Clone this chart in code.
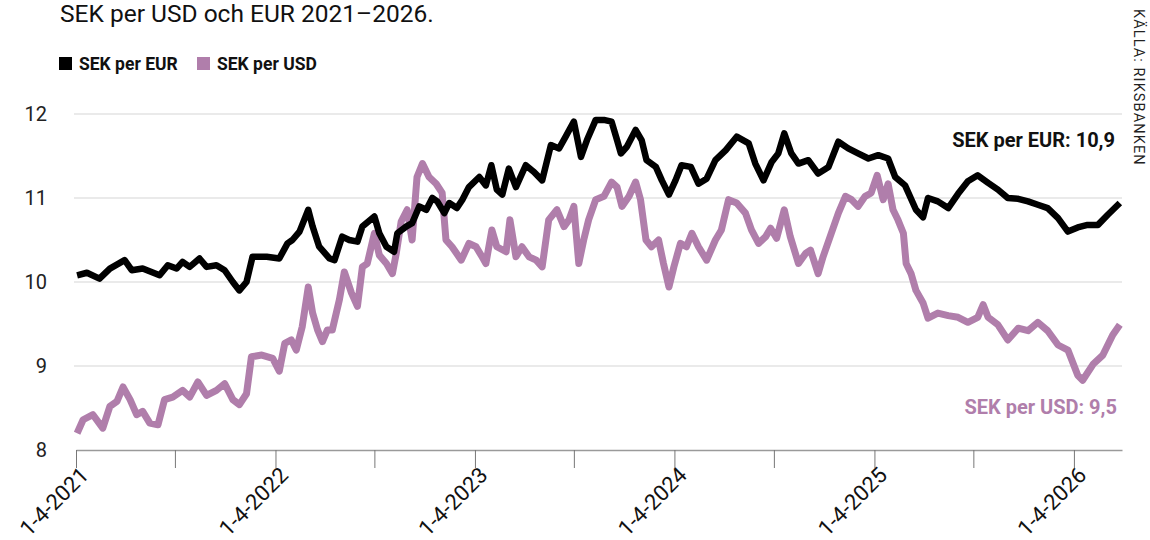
<!DOCTYPE html>
<html>
<head>
<meta charset="utf-8">
<script src="https://cdn.jsdelivr.net/npm/d3@7"></script>
<style>
  body { margin: 0; background: #fff; }
  svg { display: block; font-family: Roboto, 'Noto Sans', sans-serif; }
</style>
</head>
<body>
<div id="chart"></div>
<script>
// Values
const eurDates = [
  '2021-01-06', '2021-01-24', '2021-02-16', '2021-03-07', '2021-04-03', '2021-04-16',
  '2021-05-06', '2021-06-06', '2021-06-21', '2021-07-07', '2021-07-18', '2021-07-31',
  '2021-08-18', '2021-08-31', '2021-09-18', '2021-10-03', '2021-10-18', '2021-10-30',
  '2021-11-12', '2021-11-23', '2021-12-19', '2022-01-11', '2022-01-26', '2022-02-04',
  '2022-02-17', '2022-03-05', '2022-03-13', '2022-03-25', '2022-04-13', '2022-04-22',
  '2022-05-06', '2022-05-19', '2022-06-03', '2022-06-12', '2022-07-04', '2022-07-13',
  '2022-07-26', '2022-08-09', '2022-08-15', '2022-08-31', '2022-09-11', '2022-09-24',
  '2022-10-07', '2022-10-18', '2022-10-27', '2022-11-09', '2022-11-18', '2022-12-02',
  '2022-12-12', '2022-12-24', '2023-01-12', '2023-01-24', '2023-02-03', '2023-02-13',
  '2023-02-23', '2023-03-07', '2023-03-20', '2023-04-07', '2023-04-22', '2023-05-07',
  '2023-05-23', '2023-06-07', '2023-06-19', '2023-07-04', '2023-07-17', '2023-07-28',
  '2023-08-13', '2023-08-28', '2023-09-11', '2023-09-21', '2023-09-28', '2023-10-09',
  '2023-10-25', '2023-11-05', '2023-11-14', '2023-12-01', '2023-12-12', '2023-12-25',
  '2024-01-06', '2024-01-17', '2024-02-03', '2024-02-17', '2024-03-03', '2024-03-19',
  '2024-04-07', '2024-04-27', '2024-05-19', '2024-05-31', '2024-06-15', '2024-06-30',
  '2024-07-12', '2024-07-23', '2024-08-05', '2024-08-18', '2024-09-05', '2024-09-23',
  '2024-10-12', '2024-10-30', '2024-11-17', '2024-12-05', '2024-12-24', '2025-01-11',
  '2025-01-29', '2025-02-11', '2025-03-01', '2025-03-21', '2025-04-03', '2025-04-12',
  '2025-04-30', '2025-05-19', '2025-06-06', '2025-06-24', '2025-07-12', '2025-07-31',
  '2025-08-18', '2025-09-05', '2025-09-24', '2025-10-12', '2025-10-30', '2025-11-17',
  '2025-12-06', '2025-12-24', '2026-01-11', '2026-01-29', '2026-02-17', '2026-03-07',
  '2026-03-29'
];
const eurValues = [
  10.08, 10.11, 10.04, 10.16, 10.26, 10.14,
  10.16, 10.08, 10.20, 10.16, 10.24, 10.18,
  10.28, 10.18, 10.20, 10.14, 10.00, 9.90,
  10.00, 10.30, 10.30, 10.28, 10.46, 10.50,
  10.60, 10.86, 10.66, 10.42, 10.28, 10.26,
  10.54, 10.50, 10.48, 10.66, 10.78, 10.58,
  10.42, 10.36, 10.58, 10.66, 10.70, 10.90,
  10.86, 11.00, 10.96, 10.82, 10.94, 10.88,
  10.98, 11.13, 11.25, 11.15, 11.39, 11.10,
  11.04, 11.35, 11.13, 11.39, 11.31, 11.21,
  11.63, 11.59, 11.73, 11.91, 11.49, 11.69,
  11.93, 11.93, 11.91, 11.69, 11.53, 11.61,
  11.81, 11.69, 11.45, 11.37, 11.21, 11.04,
  11.21, 11.39, 11.37, 11.17, 11.23, 11.45,
  11.57, 11.73, 11.65, 11.41, 11.21, 11.43,
  11.53, 11.77, 11.53, 11.41, 11.45, 11.29,
  11.37, 11.67, 11.59, 11.53, 11.47, 11.51,
  11.47, 11.25, 11.15, 10.86, 10.77, 11.00,
  10.96, 10.88, 11.05, 11.20, 11.27, 11.18,
  11.10, 11.00, 10.99, 10.96, 10.92, 10.88,
  10.76, 10.60, 10.65, 10.68, 10.68, 10.80,
  10.94
];

const usdDates = [
  '2021-01-06', '2021-01-17', '2021-02-04', '2021-02-22', '2021-03-07', '2021-03-20',
  '2021-03-31', '2021-04-13', '2021-04-25', '2021-05-06', '2021-05-19', '2021-06-03',
  '2021-06-15', '2021-06-30', '2021-07-18', '2021-07-31', '2021-08-15', '2021-08-31',
  '2021-09-18', '2021-10-03', '2021-10-18', '2021-10-30', '2021-11-12', '2021-11-21',
  '2021-12-10', '2021-12-30', '2022-01-11', '2022-01-21', '2022-02-02', '2022-02-11',
  '2022-02-22', '2022-03-05', '2022-03-13', '2022-03-22', '2022-03-31', '2022-04-09',
  '2022-04-18', '2022-05-01', '2022-05-10', '2022-05-23', '2022-06-03', '2022-06-12',
  '2022-06-21', '2022-07-04', '2022-07-13', '2022-07-26', '2022-08-06', '2022-08-13',
  '2022-08-22', '2022-09-02', '2022-09-11', '2022-09-20', '2022-09-30', '2022-10-12',
  '2022-10-25', '2022-11-05', '2022-11-12', '2022-11-23', '2022-12-10', '2022-12-24',
  '2023-01-06', '2023-01-17', '2023-01-24', '2023-02-04', '2023-02-13', '2023-03-02',
  '2023-03-09', '2023-03-20', '2023-03-31', '2023-04-13', '2023-04-26', '2023-05-07',
  '2023-05-19', '2023-06-03', '2023-06-16', '2023-06-25', '2023-07-04', '2023-07-13',
  '2023-07-22', '2023-07-31', '2023-08-13', '2023-08-28', '2023-09-11', '2023-09-21',
  '2023-09-30', '2023-10-13', '2023-10-25', '2023-11-03', '2023-11-13', '2023-11-23',
  '2023-12-06', '2023-12-15', '2023-12-25', '2024-01-03', '2024-01-15', '2024-01-26',
  '2024-02-05', '2024-02-17', '2024-03-03', '2024-03-19', '2024-03-30', '2024-04-12',
  '2024-04-27', '2024-05-13', '2024-05-24', '2024-06-06', '2024-06-19', '2024-06-28',
  '2024-07-09', '2024-07-23', '2024-08-03', '2024-08-18', '2024-08-31', '2024-09-09',
  '2024-09-23', '2024-10-02', '2024-10-17', '2024-10-30', '2024-11-12', '2024-11-23',
  '2024-12-05', '2024-12-18', '2024-12-29', '2025-01-09', '2025-01-20', '2025-01-29',
  '2025-02-07', '2025-02-16', '2025-02-26', '2025-03-03', '2025-03-12', '2025-03-21',
  '2025-04-03', '2025-04-12', '2025-04-30', '2025-05-19', '2025-06-06', '2025-06-24',
  '2025-07-12', '2025-07-22', '2025-07-31', '2025-08-18', '2025-09-05', '2025-09-24',
  '2025-10-12', '2025-10-30', '2025-11-17', '2025-12-06', '2025-12-24', '2026-01-11',
  '2026-01-20', '2026-02-08', '2026-02-26', '2026-03-16', '2026-03-29'
];
const usdValues = [
  8.20, 8.36, 8.42, 8.26, 8.52, 8.58,
  8.75, 8.60, 8.42, 8.46, 8.32, 8.30,
  8.60, 8.63, 8.71, 8.63, 8.81, 8.65,
  8.71, 8.79, 8.60, 8.54, 8.67, 9.11,
  9.13, 9.09, 8.94, 9.27, 9.31, 9.19,
  9.47, 9.94, 9.63, 9.43, 9.29, 9.43,
  9.43, 9.79, 10.12, 9.87, 9.71, 10.18,
  10.22, 10.58, 10.32, 10.22, 10.10, 10.34,
  10.72, 10.86, 10.50, 11.25, 11.41, 11.25,
  11.17, 11.06, 10.50, 10.42, 10.26, 10.46,
  10.42, 10.30, 10.22, 10.62, 10.42, 10.36,
  10.74, 10.30, 10.42, 10.30, 10.26, 10.18,
  10.74, 10.86, 10.66, 10.74, 10.90, 10.22,
  10.50, 10.74, 10.98, 11.02, 11.19, 11.13,
  10.90, 11.02, 11.19, 10.98, 10.50, 10.42,
  10.50, 10.22, 9.94, 10.18, 10.46, 10.42,
  10.58, 10.42, 10.26, 10.50, 10.62, 10.98,
  10.94, 10.82, 10.62, 10.46, 10.54, 10.64,
  10.52, 10.86, 10.54, 10.22, 10.34, 10.38,
  10.10, 10.30, 10.58, 10.82, 11.02, 10.98,
  10.90, 11.02, 11.06, 11.27, 10.98, 11.17,
  10.86, 10.74, 10.58, 10.22, 10.10, 9.90,
  9.75, 9.57, 9.63, 9.60, 9.58, 9.52,
  9.58, 9.73, 9.58, 9.49, 9.31, 9.45,
  9.42, 9.52, 9.42, 9.25, 9.19, 8.89,
  8.83, 9.02, 9.13, 9.37, 9.49
];

const yTicks = [8, 9, 10, 11, 12];
const xStart = '2021-01-04';
const xEnd = '2026-04-02';
const seriesNames = ['SEK per EUR', 'SEK per USD'];
const seriesColors = ['#000000', '#b07eab'];
const lastLabels = ['SEK per EUR: 10,9', 'SEK per USD: 9,5'];
const titleText = 'SEK per USD och EUR 2021–2026.';
const sourceText = 'KÄLLA: RIKSBANKEN';

class ExchangeChart {
  constructor(width, height, margins) {
    this.width = width;
    this.height = height;
    this.margins = margins;

    this.parse = d3.timeParse('%Y-%m-%d');

    this.svg = d3
      .select('#chart')
      .append('svg')
      .attr('width', width)
      .attr('height', height);

    // Scales
    this.x = d3
      .scaleTime()
      .domain([this.parse(xStart), this.parse(xEnd)])
      .range([margins.left, width - margins.right]);
    this.y = d3
      .scaleLinear()
      .domain([8, 12])
      .range([height - margins.bottom, margins.top]);

    this.draw();
  }

  draw() {
    const { x, y, svg } = this;
    const left = this.margins.left;
    const right = this.width - this.margins.right;
    const bottom = this.height - this.margins.bottom;

    // Title, close to the top edge like the original
    svg
      .append('text')
      .attr('x', 60)
      .attr('y', 22)
      .attr('font-size', 24.5)
      .attr('fill', '#111')
      .text(titleText);

    // Legend
    const legendX = [59, 197];
    seriesNames.forEach((name, i) => {
      svg
        .append('rect')
        .attr('x', legendX[i])
        .attr('y', 57)
        .attr('width', 13)
        .attr('height', 13)
        .attr('fill', seriesColors[i]);
      svg
        .append('text')
        .attr('x', legendX[i] + 20)
        .attr('y', 70)
        .attr('font-size', 17.5)
        .attr('font-weight', 'bold')
        .attr('fill', '#111')
        .text(name);
    });

    // Horizontal grid lines
    svg
      .append('g')
      .selectAll('line')
      .data(yTicks.filter(t => t > 8))
      .join('line')
      .attr('x1', left - 2)
      .attr('x2', right)
      .attr('y1', d => y(d))
      .attr('y2', d => y(d))
      .attr('stroke', '#d6d6d6')
      .attr('stroke-width', 1.2);

    // Y labels
    svg
      .append('g')
      .selectAll('text')
      .data(yTicks)
      .join('text')
      .attr('x', 47)
      .attr('y', d => y(d))
      .attr('dy', '0.35em')
      .attr('text-anchor', 'end')
      .attr('font-size', 20)
      .attr('fill', '#222')
      .text(d => d);

    // X axis: ticks every half year, labels on the January ones
    const tickDates = d3.range(2021, 2027).flatMap(yr => [
      new Date(yr, 0, 4),
      new Date(yr, 6, 4)
    ]).filter(d => d <= x.domain()[1]);
    const fmt = d3.timeFormat('%-m-%-d-%Y');

    const xAxis = svg
      .append('g')
      .attr('transform', `translate(0,${bottom})`)
      .call(
        d3
          .axisBottom(x)
          .tickValues(tickDates)
          .tickSize(18)
          .tickSizeOuter(0)
          .tickFormat(d => (d.getMonth() === 0 ? fmt(d) : ''))
      );
    xAxis.select('.domain').attr('stroke', '#9a9a9a').attr('stroke-width', 1.5);
    xAxis.selectAll('.tick line').attr('stroke', '#777');
    xAxis
      .selectAll('.tick text')
      .attr('font-family', 'Roboto, sans-serif')
      .attr('font-size', 22)
      .attr('fill', '#111')
      .attr('text-anchor', 'end')
      .attr('transform', 'translate(8,21) rotate(-45)')
      .attr('y', 0)
      .attr('dy', '0.35em');

    // Lines, USD first so EUR lies on top
    const line = d3
      .line()
      .x(d => x(d.date))
      .y(d => y(d.value));

    const series = [
      { dates: usdDates, values: usdValues, color: seriesColors[1], w: 7 },
      { dates: eurDates, values: eurValues, color: seriesColors[0], w: 6.5 }
    ];
    series.forEach(s => {
      const data = s.dates.map((d, i) => ({ date: this.parse(d), value: s.values[i] }));
      svg
        .append('path')
        .datum(data)
        .attr('d', line)
        .attr('fill', 'none')
        .attr('stroke', s.color)
        .attr('stroke-width', s.w)
        .attr('stroke-linejoin', 'round');
    });

    // End labels
    svg
      .append('text')
      .attr('x', 1115)
      .attr('y', 147)
      .attr('text-anchor', 'end')
      .attr('font-size', 20)
      .attr('font-weight', 'bold')
      .attr('fill', '#111')
      .text(lastLabels[0]);
    svg
      .append('text')
      .attr('x', 1117)
      .attr('y', 414)
      .attr('text-anchor', 'end')
      .attr('font-size', 20)
      .attr('font-weight', 'bold')
      .attr('fill', seriesColors[1])
      .text(lastLabels[1]);

    // Source, rotated along the right edge
    svg
      .append('text')
      .attr('transform', 'translate(1134,9) rotate(90)')
      .attr('font-size', 14.5)
      .attr('letter-spacing', 1.1)
      .attr('fill', '#222')
      .text(sourceText);
  }
}

new ExchangeChart(1150, 540, { top: 114, right: 28, bottom: 90, left: 76 });
</script>
</body>
</html>
